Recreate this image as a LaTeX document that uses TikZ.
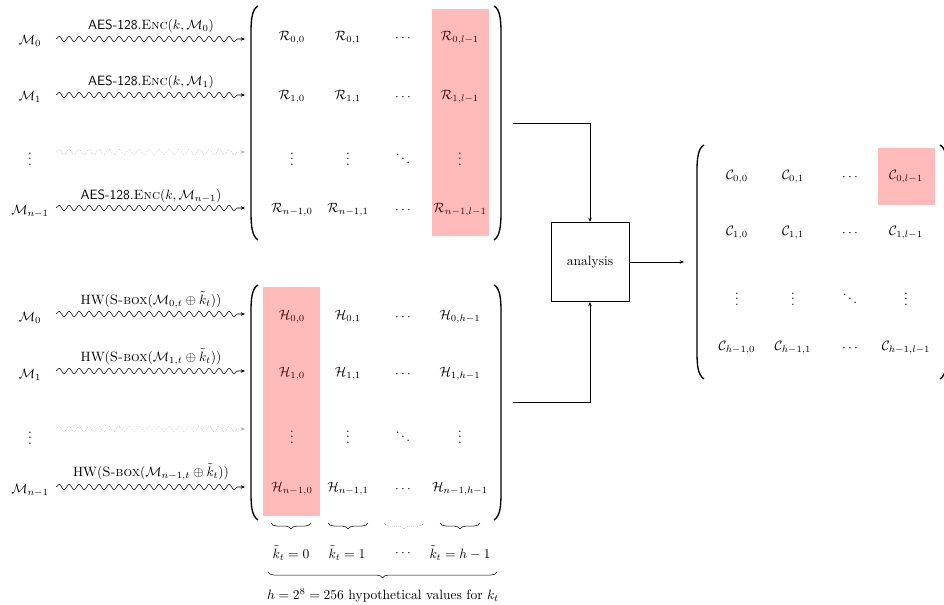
\documentclass[tikz,border=0pt]{standalone}
\usetikzlibrary{decorations.pathmorphing,decorations.pathreplacing,arrows.meta}
\begin{document}
\begin{tikzpicture}[x=0.74pt,y=-0.74pt,
  >={Stealth[length=3.2pt,width=2.6pt]},
  cell/.style={inner sep=0pt,anchor=center},
  lab/.style={inner sep=0pt,anchor=center},
  wavy/.style={->,decorate,decoration={snake,segment length=7.4pt,amplitude=2pt,post length=3pt}},
  wavyfaint/.style={wavy,gray!60,densely dotted},
  paren/.style={line width=1pt},
  hl/.style={fill=red,fill opacity=0.27,draw=none},
  conn/.style={->,line width=0.55pt},
  braced/.style={decorate,decoration={brace,mirror,amplitude=4.5pt}}
]
\useasboundingbox (0,0) rectangle (944,605);

% ---------- top left labels and arrows ----------
\node[lab] (ma0) at (30,41) {$\mathcal{M}_0$};
\node[lab] (ma1) at (30,97) {$\mathcal{M}_1$};
\node[lab] (ma2) at (30,155) {$\vdots$};
\node[lab] (ma3) at (30,211) {$\mathcal{M}_{n-1}$};
\foreach \i/\y in {0/39,1/95,2/152,3/208}{
  \coordinate (as\i) at (56,\y);
  \coordinate (ae\i) at (245,\y);
}
\draw[wavy] (as0) -- (ae0);
\draw[wavy] (as1) -- (ae1);
\draw[wavyfaint] (as2) -- (ae2);
\draw[wavy] (as3) -- (ae3);
\node[lab] (la0) at (151,26) {\textsf{AES-128}.\textsc{Enc}$(k,\mathcal{M}_0)$};
\node[lab] (la1) at (151,82) {\textsf{AES-128}.\textsc{Enc}$(k,\mathcal{M}_1)$};
\node[lab] (la3) at (151,196) {\textsf{AES-128}.\textsc{Enc}$(k,\mathcal{M}_{n-1})$};

% ---------- top matrix R ----------
\node[cell] (r00) at (292,38) {$\mathcal{R}_{0,0}$};
\node[cell] (r01) at (348,38) {$\mathcal{R}_{0,1}$};
\node[cell] (r02) at (403,38) {$\cdots$};
\node[cell] (r03) at (460,38) {$\mathcal{R}_{0,l-1}$};
\node[cell] (r10) at (292,97) {$\mathcal{R}_{1,0}$};
\node[cell] (r11) at (348,97) {$\mathcal{R}_{1,1}$};
\node[cell] (r12) at (403,97) {$\cdots$};
\node[cell] (r13) at (460,97) {$\mathcal{R}_{1,l-1}$};
\node[cell] (r20) at (292,155) {$\vdots$};
\node[cell] (r21) at (348,155) {$\vdots$};
\node[cell] (r22) at (403,155) {$\ddots$};
\node[cell] (r23) at (460,155) {$\vdots$};
\node[cell] (r30) at (292,210) {$\mathcal{R}_{n-1,0}$};
\node[cell] (r31) at (348,210) {$\mathcal{R}_{n-1,1}$};
\node[cell] (r32) at (403,210) {$\cdots$};
\node[cell] (r33) at (460,210) {$\mathcal{R}_{n-1,l-1}$};
\fill[hl] (432,9) rectangle (489,236);
\draw[paren] (258,6) .. controls (252,9) and (251,20) .. (251,32) -- (251,212) .. controls (251,226) and (252,236) .. (258,240);
\draw[paren] (494,6) .. controls (500,9) and (501,20) .. (501,32) -- (501,212) .. controls (501,226) and (500,236) .. (494,240);

% ---------- bottom left labels and arrows ----------
\node[lab] (mb0) at (30,318) {$\mathcal{M}_0$};
\node[lab] (mb1) at (30,375) {$\mathcal{M}_1$};
\node[lab] (mb2) at (30,434) {$\vdots$};
\node[lab] (mb3) at (30,490) {$\mathcal{M}_{n-1}$};
\foreach \i/\y in {0/314,1/371,2/429,3/487}{
  \coordinate (bs\i) at (56,\y);
  \coordinate (be\i) at (245,\y);
}
\draw[wavy] (bs0) -- (be0);
\draw[wavy] (bs1) -- (be1);
\draw[wavyfaint] (bs2) -- (be2);
\draw[wavy] (bs3) -- (be3);
\node[lab] (lb0) at (151,300) {HW(\textsc{S-box}($\mathcal{M}_{0,t}\oplus\tilde{k}_t$))};
\node[lab] (lb1) at (151,357) {HW(\textsc{S-box}($\mathcal{M}_{1,t}\oplus\tilde{k}_t$))};
\node[lab] (lb3) at (151,472) {HW(\textsc{S-box}($\mathcal{M}_{n-1,t}\oplus\tilde{k}_t$))};

% ---------- bottom matrix H ----------
\node[cell] (h00) at (292,317) {$\mathcal{H}_{0,0}$};
\node[cell] (h01) at (348,317) {$\mathcal{H}_{0,1}$};
\node[cell] (h02) at (403,317) {$\cdots$};
\node[cell] (h03) at (460,317) {$\mathcal{H}_{0,h-1}$};
\node[cell] (h10) at (292,374) {$\mathcal{H}_{1,0}$};
\node[cell] (h11) at (348,374) {$\mathcal{H}_{1,1}$};
\node[cell] (h12) at (403,374) {$\cdots$};
\node[cell] (h13) at (460,374) {$\mathcal{H}_{1,h-1}$};
\node[cell] (h20) at (292,433) {$\vdots$};
\node[cell] (h21) at (348,433) {$\vdots$};
\node[cell] (h22) at (403,433) {$\ddots$};
\node[cell] (h23) at (460,433) {$\vdots$};
\node[cell] (h30) at (292,489) {$\mathcal{H}_{n-1,0}$};
\node[cell] (h31) at (348,489) {$\mathcal{H}_{n-1,1}$};
\node[cell] (h32) at (403,489) {$\cdots$};
\node[cell] (h33) at (460,489) {$\mathcal{H}_{n-1,h-1}$};
\fill[hl] (263,287) rectangle (320,516);
\draw[paren] (258,285) .. controls (252,288) and (251,299) .. (251,311) -- (251,493) .. controls (251,507) and (252,516) .. (258,520);
\draw[paren] (494,285) .. controls (500,288) and (501,299) .. (501,311) -- (501,493) .. controls (501,507) and (500,516) .. (494,520);

% ---------- braces under H ----------
\draw[braced] (271,523) -- (311,523);
\draw[braced] (328,523) -- (368,523);
\draw[braced,densely dotted,gray] (384,523) -- (424,523);
\draw[braced] (440,523) -- (480,523);
\node[lab] (k0) at (291,553) {$\tilde{k}_t = 0$};
\node[lab] (k1) at (347,553) {$\tilde{k}_t = 1$};
\node[lab] (k2) at (403,553) {$\cdots$};
\node[lab] (k3) at (460,553) {$\tilde{k}_t = h-1$};
\draw[braced] (268,572) -- (497,572);
\node[lab] (hyp) at (383,595) {$h = 2^8 = 256$ hypothetical values for $k_t$};

% ---------- analysis ----------
\node[draw,line width=0.6pt,minimum width=57.7pt,minimum height=58.5pt,inner sep=0pt] (an) at (590,262) {analysis};
\coordinate (tR) at (513,123);
\coordinate (tH) at (513,402);
\coordinate (tC) at (684,262);
\draw[conn] (tR) -| (an.north);
\draw[conn] (tH) -| (an.south);
\draw[conn] (an.east) -- (tC);

% ---------- right matrix C ----------
\node[cell] (c00) at (737,177) {$\mathcal{C}_{0,0}$};
\node[cell] (c01) at (793,177) {$\mathcal{C}_{0,1}$};
\node[cell] (c02) at (850,177) {$\cdots$};
\node[cell] (c03) at (906,177) {$\mathcal{C}_{0,l-1}$};
\node[cell] (c10) at (737,233) {$\mathcal{C}_{1,0}$};
\node[cell] (c11) at (793,233) {$\mathcal{C}_{1,1}$};
\node[cell] (c12) at (850,233) {$\cdots$};
\node[cell] (c13) at (906,233) {$\mathcal{C}_{1,l-1}$};
\node[cell] (c20) at (737,295) {$\vdots$};
\node[cell] (c21) at (793,295) {$\vdots$};
\node[cell] (c22) at (850,295) {$\ddots$};
\node[cell] (c23) at (906,295) {$\vdots$};
\node[cell] (c30) at (737,348) {$\mathcal{C}_{h-1,0}$};
\node[cell] (c31) at (793,348) {$\mathcal{C}_{h-1,1}$};
\node[cell] (c32) at (850,348) {$\cdots$};
\node[cell] (c33) at (906,348) {$\mathcal{C}_{h-1,l-1}$};
\fill[hl] (878,148) rectangle (935,205);
\draw[paren] (704,145) .. controls (698,148) and (697,159) .. (697,171) -- (697,352) .. controls (697,366) and (698,375) .. (704,379);
\draw[paren] (940,145) .. controls (946,148) and (947,159) .. (947,171) -- (947,352) .. controls (947,366) and (946,375) .. (940,379);
\end{tikzpicture}
\end{document}
